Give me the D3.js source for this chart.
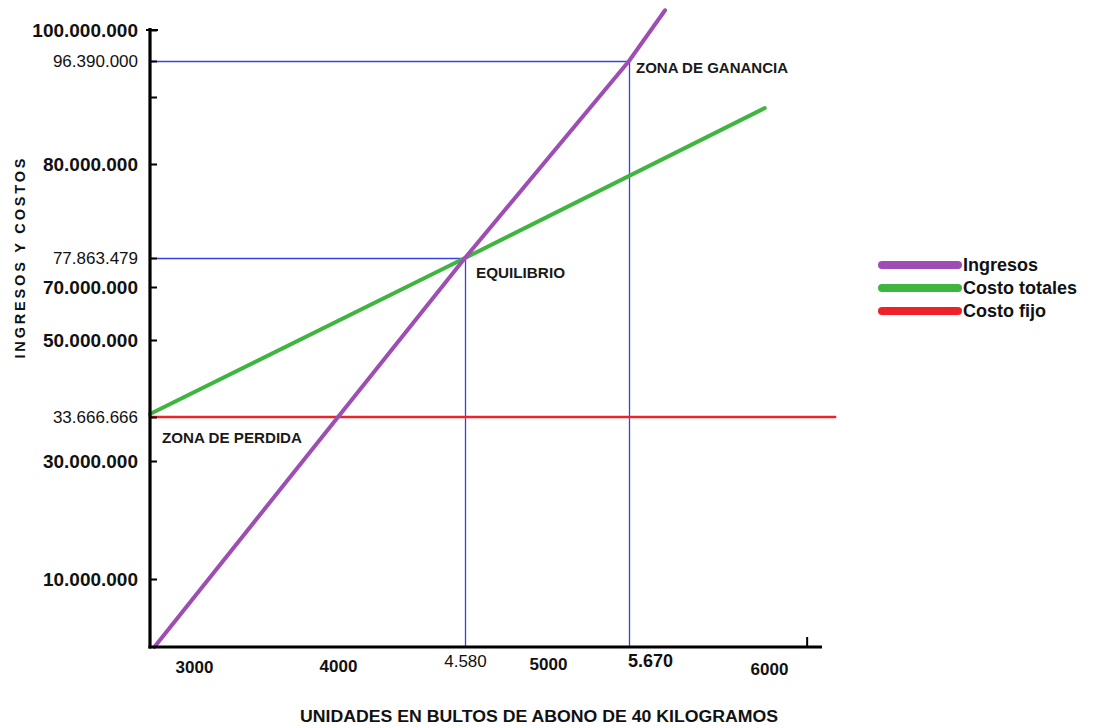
<!DOCTYPE html>
<html>
<head>
<meta charset="utf-8">
<script src="https://cdn.jsdelivr.net/npm/d3@7"></script>
<style>
  html, body { margin: 0; padding: 0; background: #ffffff; }
  svg { display: block; font-family: "Liberation Sans", Arial, sans-serif; }
</style>
</head>
<body>
<svg id="chart" width="1098" height="728"></svg>
<script>
// ---------- DATA ----------
const xTickValues = [3000, 4000, 4580, 5000, 5670, 6000];
const xTickLabels = ["3000", "4000", "4.580", "5000", "5.670", "6000"];

const yTickValues = [100000000, 96390000, 90000000, 80000000, 77863479, 70000000, 50000000, 33666666, 30000000, 10000000];
const yTickLabels = ["100.000.000", "96.390.000", "", "80.000.000", "77.863.479", "70.000.000", "50.000.000", "33.666.666", "30.000.000", "10.000.000"];

// Ingresos (revenue)
const ingresosUnits  = [300, 4580, 5670, 5755];
const ingresosValues = [0, 77863479, 96390000, 102300000];
// Costo totales (total cost)
const costoTotalUnits  = [0, 4580, 5990];
const costoTotalValues = [34300000, 77863479, 88350000];
// Costo fijo (fixed cost)
const costoFijoUnits  = [0, 6156];
const costoFijoValues = [33666666, 33666666];

// Reference points
const equilibrio = { units: 4580, value: 77863479 };
const ganancia   = { units: 5670, value: 96390000 };

const seriesNames  = ["Ingresos", "Costo totales", "Costo fijo"];
const seriesColors = ["#9d4db3", "#3fb53f", "#ee2228"];

const xTitle = "UNIDADES EN BULTOS DE ABONO DE 40 KILOGRAMOS";
const yTitle = "INGRESOS Y COSTOS";

// ---------- SCALES (hand-drawn, non-uniform axes -> piecewise linear) ----------
const x = d3.scaleLinear()
  .domain([0, 3000, 4000, 4580, 5000, 5670, 6000, 6125])
  .range([150, 194, 338, 465, 548, 629, 769, 822]);

const y = d3.scaleLinear()
  .domain([0, 10000000, 30000000, 33666666, 50000000, 70000000, 77863479, 80000000, 90000000, 96390000, 100000000])
  .range([647, 579, 461, 417, 340, 287, 258, 164, 97, 61, 30]);

const svg = d3.select("#chart");

// ---------- GUIDE LINES (blue) ----------
const guide = svg.append("g").attr("stroke", "#3543e6").attr("stroke-width", 1.3).attr("fill", "none");
[ganancia, equilibrio].forEach(p => {
  guide.append("line")
    .attr("x1", x(0)).attr("x2", x(p.units))
    .attr("y1", y(p.value) + 0.5).attr("y2", y(p.value) + 0.5);
  guide.append("line")
    .attr("x1", x(p.units) + 0.5).attr("x2", x(p.units) + 0.5)
    .attr("y1", y(p.value)).attr("y2", y(0));
});

// ---------- SERIES ----------
const line = d3.line().x(d => x(d[0])).y(d => y(d[1]));
const series = [
  { pts: d3.zip(costoFijoUnits, costoFijoValues), color: seriesColors[2], w: 2.6 },
  { pts: d3.zip(costoTotalUnits, costoTotalValues), color: seriesColors[1], w: 4 },
  { pts: d3.zip(ingresosUnits, ingresosValues), color: seriesColors[0], w: 4 }
];
svg.append("g").selectAll("path").data(series).join("path")
  .attr("d", d => line(d.pts))
  .attr("fill", "none")
  .attr("stroke", d => d.color)
  .attr("stroke-width", d => d.w)
  .attr("stroke-linecap", "round");

// ---------- Y AXIS ----------
const yAxis = d3.axisLeft(y)
  .tickValues(yTickValues)
  .tickFormat((d, i) => yTickLabels[i])
  .tickSizeInner(-7)
  .tickSizeOuter(0)
  .tickPadding(12);

const gy = svg.append("g").attr("transform", `translate(${x(0)},0)`).call(yAxis);
gy.select(".domain").remove();
gy.selectAll(".tick line").attr("stroke", "#000").attr("stroke-width", 2);
gy.selectAll(".tick text")
  .attr("fill", "#111")
  .style("font-size", d => (d % 10000000 === 0 ? "19px" : "17px"))
  .style("font-weight", d => (d % 10000000 === 0 ? "bold" : "normal"));
// cap tick at top
gy.append("line").attr("x1", -4).attr("x2", 8).attr("y1", y(100000000)).attr("y2", y(100000000))
  .attr("stroke", "#000").attr("stroke-width", 2);
gy.append("line").attr("x1", 0).attr("x2", 0).attr("y1", y(100000000) - 2).attr("y2", y(0) + 1.5)
  .attr("stroke", "#000").attr("stroke-width", 3.2);

// ---------- X AXIS ----------
const labelNudge = { "3000": [0, 0], "4000": [0, -1], "4.580": [0, -6], "5000": [0, -3], "5.670": [21, -7], "6000": [0, 2] };
const xAxis = d3.axisBottom(x)
  .tickValues(xTickValues)
  .tickFormat((d, i) => xTickLabels[i])
  .tickSize(0)
  .tickPadding(14);

const gx = svg.append("g").attr("transform", `translate(0,${y(0)})`).call(xAxis);
gx.select(".domain").remove();
gx.selectAll(".tick text")
  .attr("fill", "#111")
  .attr("dx", (d, i) => labelNudge[xTickLabels[i]][0])
  .attr("transform", (d, i) => `translate(0,${labelNudge[xTickLabels[i]][1]})`)
  .attr("dy", "0.71em")
  .style("font-size", (d, i) => (xTickLabels[i] === "5.670" ? "18px" : "17px"))
  .style("font-weight", (d, i) => (xTickLabels[i] === "4.580" ? "normal" : "bold"));
gx.append("line").attr("x1", x(0) - 1.5).attr("x2", x(6125)).attr("y1", 0).attr("y2", 0)
  .attr("stroke", "#000").attr("stroke-width", 3.2);
gx.append("line").attr("x1", x(6090)).attr("x2", x(6090)).attr("y1", 0).attr("y2", -10)
  .attr("stroke", "#000").attr("stroke-width", 2);

// ---------- TITLES ----------
svg.append("text")
  .attr("transform", `translate(25,${(157 + 360) / 2}) rotate(-90)`)
  .attr("text-anchor", "middle")
  .attr("textLength", 200).attr("lengthAdjust", "spacing")
  .style("font-size", "14.5px").style("font-weight", "bold").attr("fill", "#111")
  .text(yTitle);

svg.append("text")
  .attr("x", 539).attr("y", 722)
  .attr("text-anchor", "middle")
  .attr("textLength", 478).attr("lengthAdjust", "spacingAndGlyphs")
  .style("font-size", "16px").style("font-weight", "bold").attr("fill", "#111")
  .text(xTitle);

// ---------- ANNOTATIONS ----------
const ann = svg.append("g").style("font-weight", "bold").attr("fill", "#1a1a1a").style("font-size", "14px");
ann.append("text").attr("x", x(ganancia.units) + 7).attr("y", y(ganancia.value) + 12)
  .attr("textLength", 152).attr("lengthAdjust", "spacingAndGlyphs").text("ZONA DE GANANCIA");
ann.append("text").attr("x", x(equilibrio.units) + 11).attr("y", y(equilibrio.value) + 20)
  .attr("textLength", 89).attr("lengthAdjust", "spacingAndGlyphs").text("EQUILIBRIO");
ann.append("text").attr("x", x(0) + 12).attr("y", y(costoFijoValues[0]) + 26)
  .attr("textLength", 140).attr("lengthAdjust", "spacingAndGlyphs").text("ZONA DE PERDIDA");

// ---------- LEGEND ----------
const legend = svg.append("g").attr("transform", "translate(880,265)");
const li = legend.selectAll("g").data(seriesNames).join("g")
  .attr("transform", (d, i) => `translate(0,${i * 23})`);
li.append("line").attr("x1", 2).attr("x2", 78).attr("y1", 0).attr("y2", 0)
  .attr("stroke", (d, i) => seriesColors[i]).attr("stroke-width", 8).attr("stroke-linecap", "round");
li.append("text").attr("x", 83).attr("y", 0).attr("dy", "0.36em")
  .style("font-size", "18px").style("font-weight", "bold").attr("fill", "#111")
  .text(d => d);
</script>
</body>
</html>
